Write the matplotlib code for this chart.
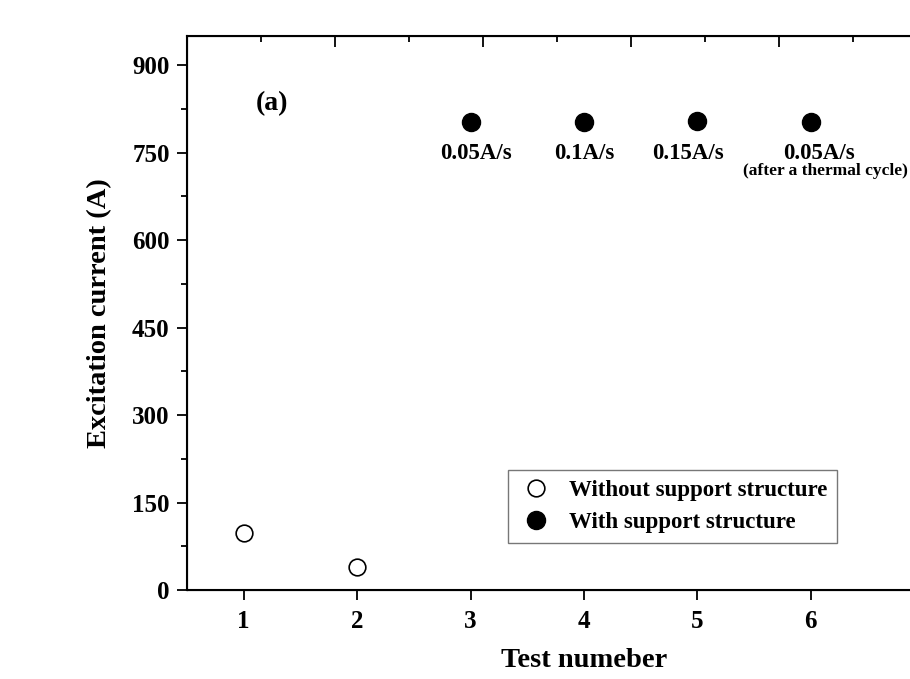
import numpy as np
import matplotlib.pyplot as plt

plt.rcParams['font.family'] = 'Liberation Serif'
plt.rcParams['font.weight'] = 'bold'

# data
test_without = [1, 2]
curr_without = [98, 40]
test_with = [3, 4, 5, 6]
curr_with = [803, 803, 805, 803]
rate_labels = ["0.05A/s", "0.1A/s", "0.15A/s", "0.05A/s"]
label_x = [3.05, 4.0, 4.92, 6.07]

fig = plt.figure(figsize=(9.1, 6.79), dpi=100)
ax = fig.add_axes([0.2055, 0.131, 0.8725, 0.816])

ax.plot(test_without, curr_without, 'o', mfc='white', mec='black', mew=1.2,
        ms=12, ls='none', label="Without support structure")
ax.plot(test_with, curr_with, 'o', mfc='black', mec='black',
        ms=13, ls='none', label="With support structure")

for x, lab in zip(label_x, rate_labels):
    ax.text(x, 748, lab, ha='center', va='center', fontsize=16.5, fontweight='bold')
ax.text(6.13, 718, "(after a thermal cycle)", ha='center', va='center',
        fontsize=12.5, fontweight='bold')
ax.text(1.25, 834, "(a)", ha='center', va='center', fontsize=20, fontweight='bold')

ax.set_xlim(0.5, 7.5)
ax.set_ylim(0, 950)
ax.set_xticks([1, 2, 3, 4, 5, 6])
ax.set_yticks(np.arange(0, 901, 150))
ax.set_yticks(np.arange(75, 901, 150), minor=True)
ax.tick_params(axis='both', which='major', direction='out', length=7.5, width=1.3,
               labelsize=18, pad=5)
ax.tick_params(axis='x', which='major', pad=7)
ax.tick_params(axis='y', which='minor', direction='out', length=4, width=1.3)
ax.tick_params(top=False, right=False)
for lab in ax.get_xticklabels() + ax.get_yticklabels():
    lab.set_fontweight('bold')
for s in ax.spines.values():
    s.set_linewidth(1.5)

ax.set_xlabel("Test numeber", fontsize=20.5, fontweight='bold', labelpad=11)
ax.set_ylabel("Excitation current (A)", fontsize=20.5, fontweight='bold', labelpad=14)

top = ax.twiny()
top.set_xlim(0, 10.73)
top.set_xticks(np.arange(2, 11, 2))
top.set_xticks(np.arange(1, 11, 2), minor=True)
top.tick_params(axis='x', which='major', direction='in', length=8, width=1.3,
                labeltop=False)
top.tick_params(axis='x', which='minor', direction='in', length=4.5, width=1.3)

leg = ax.legend(loc='lower left', bbox_to_anchor=(0.404, 0.085), borderaxespad=0,
                frameon=True, fancybox=False, edgecolor='#555555',
                handletextpad=0.6, borderpad=0.45, labelspacing=0.45,
                handlelength=1.6, prop={'weight': 'bold', 'size': 16.5})
leg.get_frame().set_linewidth(1.0)

fig.savefig("out.png", dpi=100)
